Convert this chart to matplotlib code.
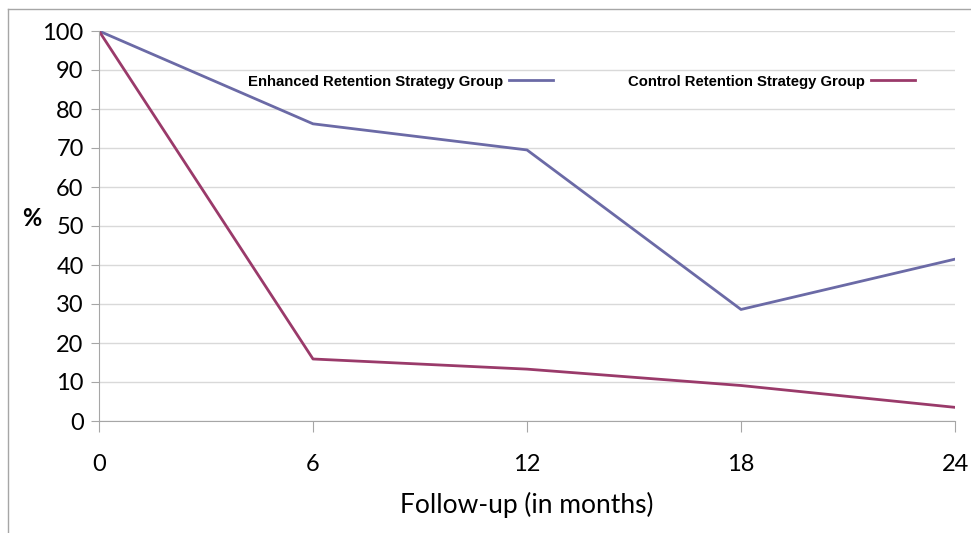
import matplotlib.pyplot as plt
from matplotlib.lines import Line2D

months = [0, 6, 12, 18, 24]
enhanced = [100, 76.2, 69.5, 28.6, 41.5]
control = [100, 15.9, 13.3, 9.1, 3.5]
yticks = list(range(0, 101, 10))

enh_color = '#6b6aa6'
ctl_color = '#9a3a6a'
grid_color = '#d9d9d9'
axis_color = '#a6a6a6'

plt.rcParams['font.family'] = ['Lato', 'DejaVu Sans']

fig = plt.figure(figsize=(9.71, 5.33), dpi=100)
ax = fig.add_axes([99 / 971, 1 - 421 / 533, 856 / 971, 390 / 533])

ax.plot(months, enhanced, color=enh_color, lw=2, label='Enhanced Retention Strategy Group')
ax.plot(months, control, color=ctl_color, lw=2, label='Control Retention Strategy Group')

ax.set_xlim(0, 24)
ax.set_ylim(0, 100)
ax.set_xticks(months)
ax.set_yticks(yticks)
ax.yaxis.grid(True, color=grid_color, lw=1)
ax.set_axisbelow(True)

for s in ['top', 'right']:
    ax.spines[s].set_visible(False)
for s in ['left', 'bottom']:
    ax.spines[s].set_color(axis_color)
ax.tick_params(axis='x', colors=axis_color, length=8, pad=16, labelsize=17, labelcolor='black')
ax.tick_params(axis='y', colors=axis_color, length=6, pad=5, labelsize=17, labelcolor='black')

ax.set_xlabel('Follow-up (in months)', fontsize=19, labelpad=12)
ax.set_ylabel('%', fontsize=17, fontweight='bold', rotation=0, labelpad=16)
ax.yaxis.set_label_coords(-0.078, 0.49)

leg = ax.legend(loc='center left', bbox_to_anchor=(0.158, 0.87), ncol=2, frameon=False,
                markerfirst=False, handlelength=2.95, handletextpad=0.4, columnspacing=5.1,
                prop={'family': 'Liberation Sans', 'weight': 'bold', 'size': 10.7})

# outer chart frame
fig.add_artist(Line2D([8 / 971, 8 / 971], [0, 1 - 9 / 533], color=axis_color, lw=1, transform=fig.transFigure))
fig.add_artist(Line2D([8 / 971, 1], [1 - 9 / 533, 1 - 9 / 533], color=axis_color, lw=1, transform=fig.transFigure))

fig.savefig('out.png', dpi=100)
